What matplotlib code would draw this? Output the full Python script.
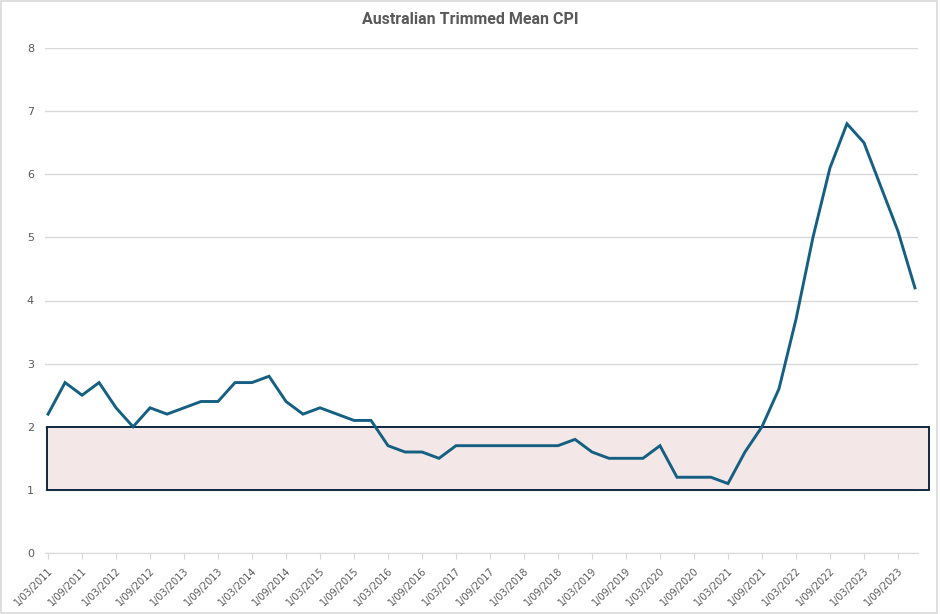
import matplotlib.pyplot as plt
import matplotlib.transforms as mtransforms
from matplotlib.patches import Rectangle

# Quarterly trimmed mean CPI (annual %), Mar 2011 - Dec 2023
years = list(range(2011, 2024))
months = ["03", "06", "09", "12"]
quarters = [f"1/{m}/{y}" for y in years for m in months]

cpi = [
    2.2, 2.7, 2.5, 2.7,   # 2011
    2.3, 2.0, 2.3, 2.2,   # 2012
    2.3, 2.4, 2.4, 2.7,   # 2013
    2.7, 2.8, 2.4, 2.2,   # 2014
    2.3, 2.2, 2.1, 2.1,   # 2015
    1.7, 1.6, 1.6, 1.5,   # 2016
    1.7, 1.7, 1.7, 1.7,   # 2017
    1.7, 1.7, 1.7, 1.8,   # 2018
    1.6, 1.5, 1.5, 1.5,   # 2019
    1.7, 1.2, 1.2, 1.2,   # 2020
    1.1, 1.6, 2.0, 2.6,   # 2021
    3.7, 5.0, 6.1, 6.8,   # 2022
    6.5, 5.8, 5.1, 4.2,   # 2023
]

target_low, target_high = 1, 2
y_ticks = list(range(0, 9))

line_color = "#156082"
text_color = "#595959"
grid_color = "#D9D9D9"

fig = plt.figure(figsize=(9.4, 6.14), dpi=100)
ax = fig.add_axes([45 / 940, 1 - 553 / 614, 873 / 940, 505 / 614])

x = list(range(len(cpi)))

# RBA target band
trans = mtransforms.blended_transform_factory(ax.transAxes, ax.transData)
band = Rectangle((0.002, target_low), 1.011, target_high - target_low,
                 transform=trans, facecolor="#F4E7E7", edgecolor="#0E2841",
                 linewidth=1.4, clip_on=False, zorder=1)
ax.add_patch(band)

ax.plot(x, cpi, color=line_color, linewidth=2.1, zorder=3,
        solid_joinstyle="miter")

ax.set_ylim(0, 8)
ax.set_xlim(-0.18, len(cpi) - 0.82)
ax.set_yticks(y_ticks)
ax.set_xticks(x[::2])
ax.set_xticklabels(quarters[::2], rotation=45, ha="right",
                   rotation_mode="anchor")

ax.grid(axis="y", color=grid_color, linewidth=1)
ax.set_axisbelow(True)
for side in ["top", "right", "left"]:
    ax.spines[side].set_visible(False)
ax.spines["bottom"].set_color(grid_color)
ax.tick_params(axis="y", length=0, pad=8, labelsize=8, labelcolor=text_color)
ax.tick_params(axis="x", length=4, color=grid_color, pad=5,
               labelsize=7, labelcolor=text_color)

fig.suptitle("Australian Trimmed Mean CPI", y=1 - 20 / 614, va="center",
             fontsize=11.5, fontweight="bold", color=text_color,
             family="Roboto")

# chart border
fig.patches.append(Rectangle((0.001, 0.002), 0.996, 0.996,
                             transform=fig.transFigure, fill=False,
                             edgecolor="#D9D9D9", linewidth=1.2))

plt.savefig("out.png", dpi=100)
